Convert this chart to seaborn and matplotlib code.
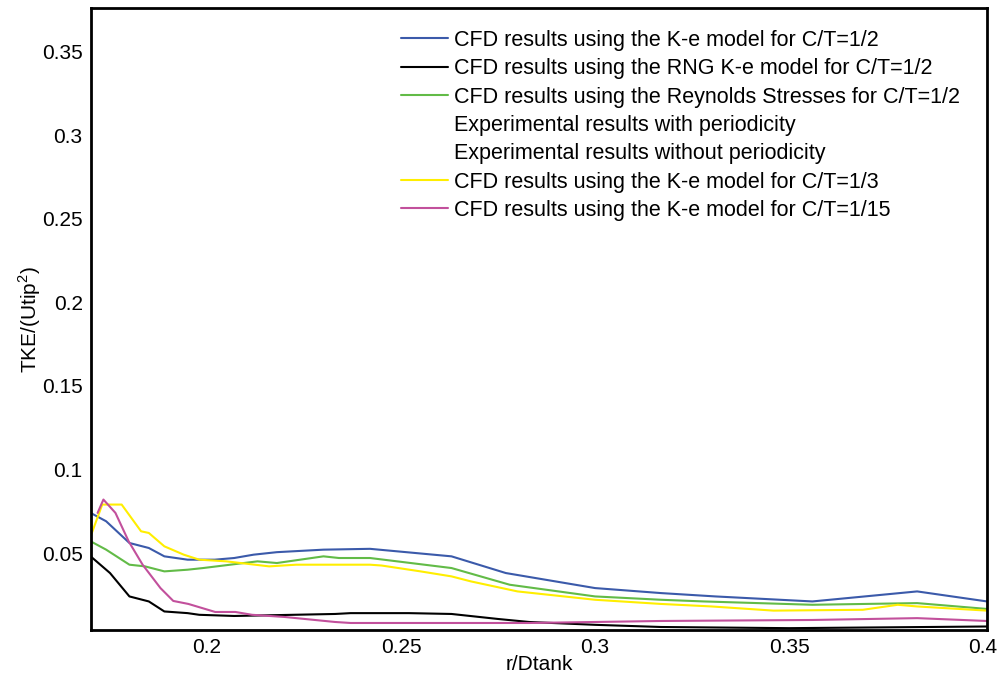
import matplotlib
matplotlib.use('Agg')
import matplotlib.pyplot as plt
import seaborn as sns
from matplotlib.lines import Line2D

sns.set_style('white')
plt.rcParams['font.family'] = ['Liberation Sans', 'DejaVu Sans']
plt.rcParams['mathtext.fontset'] = 'custom'
plt.rcParams['mathtext.rm'] = 'Liberation Sans'
plt.rcParams['text.color'] = 'black'
plt.rcParams['axes.labelcolor'] = 'black'

# K-e model, C/T=1/2 (blue)
ke_half_x = [0.170, 0.174, 0.180, 0.185, 0.189, 0.195, 0.202, 0.207, 0.212, 0.218, 0.230,
             0.242, 0.249, 0.263, 0.277, 0.300, 0.317, 0.331, 0.356, 0.383, 0.401]
ke_half_y = [0.074, 0.069, 0.056, 0.053, 0.048, 0.046, 0.046, 0.047, 0.049, 0.0505, 0.052,
             0.0525, 0.051, 0.048, 0.038, 0.029, 0.026, 0.024, 0.021, 0.027, 0.021]

# RNG K-e model, C/T=1/2 (black)
rng_x = [0.170, 0.175, 0.180, 0.185, 0.189, 0.195, 0.198, 0.207, 0.233, 0.237, 0.252,
         0.263, 0.275, 0.283, 0.300, 0.317, 0.350, 0.401]
rng_y = [0.048, 0.038, 0.024, 0.021, 0.015, 0.014, 0.013, 0.0123, 0.0135, 0.014, 0.014,
         0.0135, 0.0105, 0.0087, 0.007, 0.0057, 0.005, 0.006]

# Reynolds stresses, C/T=1/2 (green)
rsm_x = [0.170, 0.174, 0.180, 0.184, 0.189, 0.195, 0.199, 0.206, 0.213, 0.218, 0.230,
         0.234, 0.242, 0.249, 0.263, 0.278, 0.300, 0.317, 0.328, 0.356, 0.383, 0.401]
rsm_y = [0.057, 0.052, 0.043, 0.042, 0.039, 0.040, 0.041, 0.043, 0.045, 0.044, 0.048,
         0.047, 0.047, 0.045, 0.041, 0.031, 0.024, 0.022, 0.021, 0.019, 0.020, 0.0165]

# K-e model, C/T=1/3 (yellow)
ke_third_x = [0.170, 0.173, 0.178, 0.183, 0.185, 0.187, 0.189, 0.194, 0.198, 0.205, 0.216,
              0.223, 0.232, 0.242, 0.245, 0.255, 0.263, 0.268, 0.280, 0.300, 0.317, 0.330,
              0.346, 0.369, 0.378, 0.383, 0.401]
ke_third_y = [0.060, 0.079, 0.079, 0.063, 0.062, 0.058, 0.054, 0.049, 0.046, 0.045, 0.042,
              0.043, 0.043, 0.043, 0.0425, 0.039, 0.036, 0.033, 0.027, 0.022, 0.0195, 0.018,
              0.0155, 0.016, 0.019, 0.018, 0.0155]

# K-e model, C/T=1/15 (magenta)
ke_15_x = [0.1718, 0.1733, 0.1764, 0.1798, 0.1834, 0.188, 0.1913, 0.1952, 0.2021, 0.2073,
           0.2116, 0.220, 0.233, 0.237, 0.283, 0.317, 0.356, 0.383, 0.401]
ke_15_y = [0.074, 0.082, 0.074, 0.057, 0.043, 0.029, 0.0213, 0.0195, 0.0147, 0.0147,
           0.013, 0.0117, 0.0087, 0.0081, 0.0081, 0.0093, 0.0099, 0.011, 0.0093]

labels = ['CFD results using the K-e model for C/T=1/2',
          'CFD results using the RNG K-e model for C/T=1/2',
          'CFD results using the Reynolds Stresses for C/T=1/2',
          'Experimental results with periodicity',
          'Experimental results without periodicity',
          'CFD results using the K-e model for C/T=1/3',
          'CFD results using the K-e model for C/T=1/15']

fig = plt.figure(figsize=(10.05, 6.82), dpi=100)
ax = fig.add_axes([91 / 1005, 1 - 630 / 682, 896 / 1005, 622 / 682])

series = [(ke_half_x, ke_half_y, '#3b5aaa'),
          (rng_x, rng_y, '#000000'),
          (rsm_x, rsm_y, '#62bb47'),
          (ke_third_x, ke_third_y, '#ffee00'),
          (ke_15_x, ke_15_y, '#c2509c')]
for xs, ys, c in series:
    sns.lineplot(x=xs, y=ys, ax=ax, color=c, linewidth=1.5, estimator=None, sort=False)

ax.set_xlim(0.1701, 0.401)
ax.set_ylim(0.0039, 0.3763)
ax.set_xticks([0.2, 0.25, 0.3, 0.35, 0.4])
ax.set_xticklabels(['0.2', '0.25', '0.3', '0.35', '0.4'])
ax.set_yticks([0.05, 0.1, 0.15, 0.2, 0.25, 0.3, 0.35])
ax.set_yticklabels(['0.05', '0.1', '0.15', '0.2', '0.25', '0.3', '0.35'])
ax.tick_params(length=0, labelsize=15, pad=6, colors='black')
for s in ax.spines.values():
    s.set_linewidth(2)
    s.set_color('black')

ax.set_xlabel('r/Dtank', fontsize=15, labelpad=-2)
ax.set_ylabel(r'TKE/(Utip$^{\mathregular{2}}$)', fontsize=15, labelpad=-1)

colors = ['#3b5aaa', '#000000', '#62bb47', 'none', 'none', '#ffee00', '#c2509c']
handles = [Line2D([], [], color=c, linewidth=1.5) for c in colors]
fig.legend(handles, labels, loc='upper left', bbox_to_anchor=(401 / 1005, 1 - 30 / 682),
           frameon=False, fontsize=15.5, borderpad=0, borderaxespad=0,
           handlelength=2.2, handletextpad=0.25, labelspacing=0.34)

fig.savefig('out.png', dpi=100)
